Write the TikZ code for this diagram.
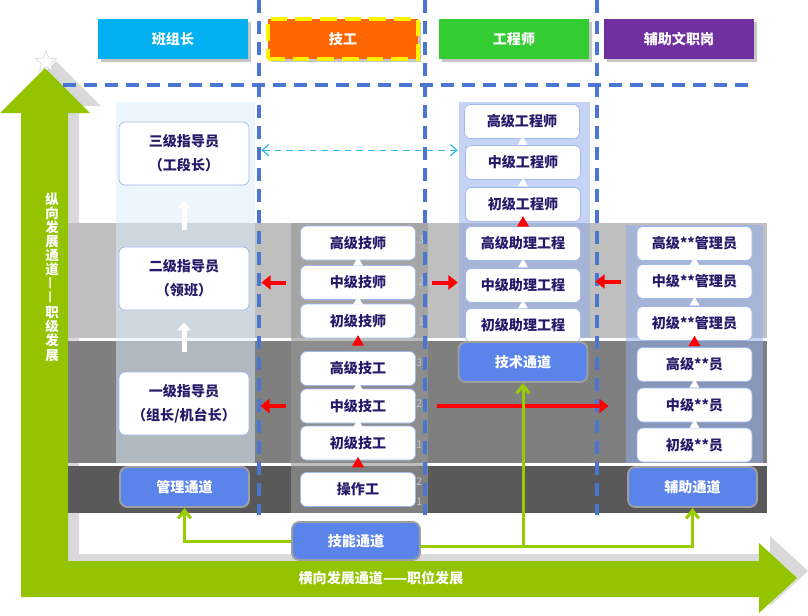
\documentclass[tikz,border=0pt]{standalone}
\usepackage{fontspec}
\setmainfont{Noto Sans CJK SC}
\usetikzlibrary{shapes.geometric,arrows.meta,shadows}

\definecolor{hdrcyan}{RGB}{0,176,240}
\definecolor{hdrorange}{RGB}{255,102,0}
\definecolor{hdrgreen}{RGB}{51,204,51}
\definecolor{hdrpurple}{RGB}{112,48,160}
\definecolor{dashblue}{RGB}{72,118,208}
\definecolor{bigarrow}{RGB}{148,195,0}
\definecolor{linkgreen}{RGB}{153,204,0}
\definecolor{bandlight}{RGB}{191,191,191}
\definecolor{bandmid}{RGB}{127,127,127}
\definecolor{banddark}{RGB}{89,89,89}
\definecolor{colpale}{RGB}{223,238,251}
\definecolor{colblue}{RGB}{145,172,235}
\definecolor{colgray}{RGB}{150,150,150}
\definecolor{boxline}{RGB}{160,184,240}
\definecolor{navytext}{RGB}{40,26,106}
\definecolor{chanblue}{RGB}{91,132,235}
\definecolor{tipcyan}{RGB}{51,181,229}

\begin{document}
\begin{tikzpicture}[x=0.3mm, y=-0.3mm,
  hdr/.style={rectangle, minimum width=45mm, minimum height=12mm, text=white,
              font=\bfseries\fontsize{12}{14}\selectfont,
              drop shadow={shadow xshift=0.9mm, shadow yshift=-0.9mm, opacity=0.45}},
  lvl/.style={rectangle, rounded corners=1.8mm, draw=boxline, line width=0.6pt,
              fill=white, text=navytext, font=\bfseries\fontsize{12}{14}\selectfont,
              minimum width=34.5mm, minimum height=10.2mm, inner sep=0pt},
  guide/.style={lvl, minimum width=39mm, minimum height=18.9mm, align=center,
                font=\bfseries\fontsize{12}{20.5}\selectfont},
  chan/.style={rectangle, rounded corners=2.2mm, draw=gray!75, line width=1.6pt,
               fill=chanblue, text=white, font=\bfseries\fontsize{12}{14}\selectfont,
               minimum width=38.7mm, minimum height=12mm},
  wtri/.style={regular polygon, regular polygon sides=3, fill=white, inner sep=0pt, minimum size=3.4mm},
  rtri/.style={regular polygon, regular polygon sides=3, fill=red, inner sep=0pt, minimum size=4.2mm},
  sep/.style={dashblue, line width=1.15mm, dash pattern=on 3.9mm off 2.4mm},
  rarr/.style={red, line width=1.2mm, -{Triangle[length=2.8mm, width=4.2mm]}},
  warr/.style={white, line width=1.5mm, -{Triangle[length=2.4mm, width=4mm]}},
  garr/.style={linkgreen, line width=0.9mm, -{Straight Barb[length=2.4mm, width=3.8mm]}},
  carr/.style={tipcyan, line width=0.35mm, dash pattern=on 2mm off 1.5mm,
               {Straight Barb[length=2mm, width=3.4mm]}-{Straight Barb[length=2mm, width=3.4mm]}},
  tag/.style={text=gray!45, font=\fontsize{9}{9}\selectfont, inner sep=0pt, anchor=west}
]
\useasboundingbox (0,0) rectangle (808,615);

%% ---- BIG L ARROW: vertical and horizontal development ----
\fill[black!15, xshift=3.3mm, yshift=2.1mm]
  (45,68) -- (90,113) -- (68,113) -- (68,561) -- (759,561) -- (759,543) -- (797,578)
  -- (759,613) -- (759,597) -- (21,597) -- (21,113) -- (0,113) -- cycle;
\node[star, star points=5, star point ratio=2.3, minimum size=6.6mm, inner sep=0pt,
      draw=black!20, fill=white] (star) at (46,62) {};
\fill[bigarrow]
  (45,68) -- (90,113) -- (68,113) -- (68,561) -- (759,561) -- (759,543) -- (797,578)
  -- (759,613) -- (759,597) -- (21,597) -- (21,113) -- (0,113) -- cycle;

\node[text=white, align=center, font=\bfseries\fontsize{11.5}{12.1}\selectfont] (vtxt) at (52,277)
  {纵\\向\\发\\展\\通\\道\\\rotatebox{90}{—}\\\rotatebox{90}{—}\\职\\级\\发\\展};
\node[text=white, font=\bfseries\fontsize{12}{14}\selectfont] (htxt) at (381,578)
  {横向发展通道——职位发展};

%% ---- BANDS and COLUMNS ----
\fill[bandlight] (68,223) rectangle (767,338);
\fill[bandmid]   (68,341) rectangle (767,463);
\fill[banddark]  (68,466) rectangle (767,513);

\fill[colpale, opacity=0.53] (116,102) rectangle (255,463);
\fill[colgray, opacity=0.63] (291,223) rectangle (428,513);
\fill[colblue, opacity=0.53] (459,102) rectangle (590,338);
\fill[colblue, opacity=0.53] (626,225) rectangle (763,463);

%% ---- DIVIDERS ----
\draw[sep] (259,0) -- (259,515);
\draw[sep] (425,0) -- (425,515);
\draw[sep] (597,0) -- (597,515);
\draw[sep] (63,85) -- (748,85);

%% ---- HEADERS ----
\node[hdr, fill=hdrcyan]   (hbz) at (173,39) {班组长};
\node[hdr, fill=hdrorange, draw=yellow, line width=1.2mm, dash pattern=on 5mm off 2.4mm]
                           (hjg) at (343,39) {技工};
\node[hdr, fill=hdrgreen]  (hgc) at (514,39) {工程师};
\node[hdr, fill=hdrpurple] (hfz) at (679,39) {辅助文职岗};

%% ---- level tags behind the 技工 boxes ----
\node[tag] (tg1) at (418,240) {3};
\node[tag] (tg2) at (418,282) {2};
\node[tag] (tg3) at (418,322) {1};
\node[tag] (tg4) at (413,363) {I3};
\node[tag] (tg5) at (413,404) {I2};
\node[tag] (tg6) at (413,445) {I1};
\node[tag] (tg7) at (413,482) {I2};
\node[tag] (tg8) at (413,502) {I1};

%% ---- LEFT: 班组长 ----
\node[guide] (zd3)  at (184,153.5) {三级指导员\\（工段长）};
\node[guide] (zd2)  at (184,278.5) {二级指导员\\（领班）};
\node[guide] (zd1)  at (184,403.5) {一级指导员\\（组长/机台长）};
\node[chan]  (glch) at (184.5,487) {管理通道};

\draw[warr, shorten <=5.1mm, shorten >=4.5mm] (zd2.north) -- (zd3.south);
\draw[warr, shorten <=6mm,   shorten >=3.6mm] (zd1.north) -- (zd2.south);

%% ---- 技工 ----
\node[lvl] (gjs) at (358,243)   {高级技师};
\node[lvl] (zjs) at (358,282.5) {中级技师};
\node[lvl] (cjs) at (358,321)   {初级技师};
\node[lvl] (gjg) at (358,368.5) {高级技工};
\node[lvl] (zjg) at (358,406)   {中级技工};
\node[lvl] (cjg) at (358,443)   {初级技工};
\node[lvl] (czg) at (358,489.5) {操作工};

\path (zjs.north) -- (gjs.south) node[midway, wtri] {};
\path (cjs.north) -- (zjs.south) node[midway, wtri] {};
\path (gjg.north) -- (cjs.south) node[pos=0.7, rtri] {};
\path (zjg.north) -- (gjg.south) node[midway, wtri] {};
\path (cjg.north) -- (zjg.south) node[midway, wtri] {};
\path (czg.north) -- (cjg.south) node[pos=0.7, rtri] {};

%% ---- 工程师 ----
\node[lvl] (ggcs) at (522,121.5) {高级工程师};
\node[lvl] (zgcs) at (523,162.5) {中级工程师};
\node[lvl] (cgcs) at (523,204.5) {初级工程师};
\node[lvl] (gzl)  at (523,243.5) {高级助理工程};
\node[lvl] (zzl)  at (523,285.5) {中级助理工程};
\node[lvl] (czl)  at (523,325.5) {初级助理工程};
\node[chan] (jstd) at (523,362) {技术通道};

\path (zgcs.north) -- (ggcs.south) node[midway, wtri] {};
\path (cgcs.north) -- (zgcs.south) node[midway, wtri] {};
\path (gzl.north)  -- (cgcs.south) node[pos=0.7, rtri] {};
\path (zzl.north)  -- (gzl.south)  node[midway, wtri] {};
\path (czl.north)  -- (zzl.south)  node[midway, wtri] {};

%% ---- 辅助文职岗 ----
\node[lvl] (ggl) at (694.5,243.5) {高级**管理员};
\node[lvl] (zgl) at (694.5,281.5) {中级**管理员};
\node[lvl] (cgl) at (694.5,323.5) {初级**管理员};
\node[lvl] (gy)  at (694.5,364.5) {高级**员};
\node[lvl] (zy)  at (694.5,405)   {中级**员};
\node[lvl] (cy)  at (694.5,445)   {初级**员};
\node[chan] (fztd) at (692.5,487) {辅助通道};

\path (zgl.north) -- (ggl.south) node[midway, wtri] {};
\path (cgl.north) -- (zgl.south) node[midway, wtri] {};
\path (gy.north)  -- (cgl.south) node[pos=0.7, rtri] {};
\path (zy.north)  -- (gy.south)  node[midway, wtri] {};
\path (cy.north)  -- (zy.south)  node[midway, wtri] {};

%% ---- 技能通道 ----
\node[chan, minimum width=38.4mm, minimum height=11.4mm] (jntd) at (356,541) {技能通道};

%% ---- CROSS MOVES ----
\draw[rarr, shorten <=4.2mm, shorten >=3.6mm]  (zjs.west) -- (zjs.west -| zd2.east);
\draw[rarr, shorten <=4.2mm, shorten >=3.3mm]  (zjg.west) -- (zjg.west -| zd1.east);
\draw[rarr, shorten <=4.8mm, shorten >=2.2mm]  (zjs.east) -- (zjs.east -| zzl.west);
\draw[rarr, shorten <=4.8mm, shorten >=4.35mm] (zgl.west) -- (zgl.west -| zzl.east);
\draw[rarr, shorten <=6.3mm, shorten >=8.4mm]  (zjg.east) -- (zjg.east -| zy.west);

\coordinate (cyL) at ([yshift=1mm]zd3.east);
\draw[carr, shorten <=3.6mm, shorten >=2.2mm] (cyL) -- (cyL -| zgcs.west);

%% ---- CHANNEL LINKS ----
\coordinate (jnR) at ([yshift=-1.5mm]jntd.east);
\draw[garr] (jntd.west) -| (glch.south);
\draw[garr] (jnR) -| (fztd.south);
\draw[garr] (jnR -| jstd.south) -- (jstd.south);

\end{tikzpicture}
\end{document}
